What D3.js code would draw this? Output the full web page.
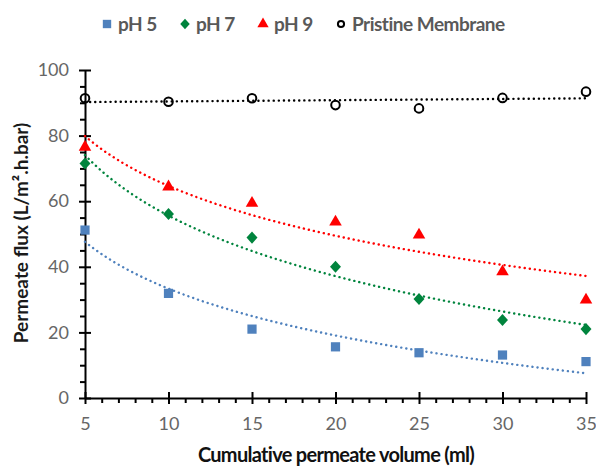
<!DOCTYPE html>
<html lang="en">
<head>
<meta charset="utf-8">
<title>permeate flux</title>
<script src="https://d3js.org/d3.v7.min.js"></script>
<style>
  body { margin: 0; background: #fff; }
  svg { display: block; }
  .tick text { font-family: Lato, sans-serif; font-size: 18px; fill: #666; }
  .domain, .tick line { stroke: #000; stroke-width: 2px; }
</style>
</head>
<body>
<div id="chart"></div>
<script>
// values
var volume   = [5, 10, 15, 20, 25, 30, 35];
var ph5      = [51.2, 31.9, 21.0, 15.6, 13.8, 13.1, 11.1];
var ph7      = [71.5, 56.1, 48.9, 40.0, 30.2, 23.8, 21.0];
var ph9      = [76.5, 64.4, 59.4, 53.7, 49.7, 38.5, 29.9];
var pristine = [91.4, 90.3, 91.4, 89.3, 88.3, 91.5, 93.4];
var xTicks = [5, 10, 15, 20, 25, 30, 35];
var yTicks = [0, 20, 40, 60, 80, 100];
var legendNames = ["pH 5", "pH 7", "pH 9", "Pristine Membrane"];

var w = 596, h = 466;
var svg = d3.select("#chart").append("svg").attr("width", w).attr("height", h);

var x = d3.scaleLinear().domain([5, 35]).range([85, 586]);
var y = d3.scaleLinear().domain([0, 100]).range([398, 70]);

// least squares trendlines (log for pH series, linear for pristine)
function fit(xs, ys, tf) {
  var tx = xs.map(tf), mx = d3.mean(tx), my = d3.mean(ys);
  var sxy = d3.sum(tx, function(v, i) { return (v - mx) * (ys[i] - my); });
  var sxx = d3.sum(tx, function(v) { return (v - mx) * (v - mx); });
  var a = sxy / sxx, b = my - a * mx;
  return function(v) { return a * tf(v) + b; };
}

// wide diamond like the spreadsheet marker
var diamond = {
  draw: function(ctx, size) {
    var r = Math.sqrt(size / 2);
    ctx.moveTo(0, -r * 1.1);
    ctx.lineTo(r, 0);
    ctx.lineTo(0, r * 1.1);
    ctx.lineTo(-r, 0);
    ctx.closePath();
  }
};

var series = [
  { name: legendNames[0], vals: ph5, color: "#4f81bd", sym: d3.symbolSquare, size: 85, lsize: 70, fill: true, tf: Math.log },
  { name: legendNames[1], vals: ph7, color: "#00843d", sym: diamond, size: 60, lsize: 45, fill: true, tf: Math.log },
  { name: legendNames[2], vals: ph9, color: "#ff0000", sym: d3.symbolTriangle, size: 68, lsize: 55, fill: true, tf: Math.log },
  { name: legendNames[3], vals: pristine, color: "#000", sym: d3.symbolCircle, size: 58, lsize: 30, fill: false, tf: function(v) { return v; } }
];

// axes: minor ticks outward, major ticks crossing
var xMinor = d3.range(5, 35.01, 1).filter(function(v) { return v % 5 !== 0; });
var yMinor = d3.range(0, 100.01, 5).filter(function(v) { return v % 20 !== 0; });

svg.append("g").attr("transform", "translate(0,398)")
  .call(d3.axisBottom(x).tickValues(xMinor).tickSize(5).tickFormat(""))
  .select(".domain").remove();
svg.append("g").attr("transform", "translate(85,0)")
  .call(d3.axisLeft(y).tickValues(yMinor).tickSize(5).tickFormat(""))
  .select(".domain").remove();

var xa = svg.append("g").attr("transform", "translate(0,398)")
  .call(d3.axisBottom(x).tickValues(xTicks).tickSize(6).tickSizeOuter(0));
xa.selectAll(".tick line").attr("y1", -6);
xa.selectAll(".tick text").attr("y", 19);

var ya = svg.append("g").attr("transform", "translate(85,0)")
  .call(d3.axisLeft(y).tickValues(yTicks).tickSize(6).tickSizeOuter(0));
ya.selectAll(".tick line").attr("x1", 6);
ya.selectAll(".tick text").attr("x", -16);

// trendlines
var xs = d3.range(5, 35.01, 0.25);
series.forEach(function(s) {
  var f = fit(volume, s.vals, s.tf);
  svg.append("path")
    .datum(xs)
    .attr("fill", "none")
    .attr("stroke", s.color)
    .attr("stroke-width", 2.4)
    .attr("stroke-linecap", "round")
    .attr("stroke-dasharray", "0.1,5")
    .attr("d", d3.line().x(function(d) { return x(d); }).y(function(d) { return y(f(d)); }));
});

// markers
series.forEach(function(s) {
  svg.append("g").selectAll("path")
    .data(s.vals)
    .enter()
    .append("path")
    .attr("transform", function(d, i) { return "translate(" + x(volume[i]) + "," + y(d) + ")"; })
    .attr("d", d3.symbol().type(s.sym).size(s.size))
    .attr("fill", s.fill ? s.color : "none")
    .attr("stroke", s.fill ? "none" : s.color)
    .attr("stroke-width", 2);
});

// legend
var legendX = [107, 185, 263, 341];
var lg = svg.append("g").selectAll("g")
  .data(series)
  .enter()
  .append("g")
  .attr("transform", function(d, i) { return "translate(" + legendX[i] + ",24)"; });
lg.append("path")
  .attr("d", function(d) { return d3.symbol().type(d.sym).size(d.lsize)(); })
  .attr("fill", function(d) { return d.fill ? d.color : "none"; })
  .attr("stroke", function(d) { return d.fill ? "none" : d.color; })
  .attr("stroke-width", 2);
lg.append("text")
  .attr("x", 11)
  .attr("dy", "0.36em")
  .style("font-family", "Lato, sans-serif")
  .style("font-size", "19px")
  .style("font-weight", "bold")
  .style("letter-spacing", "-0.5px")
  .style("fill", "#595959")
  .text(function(d) { return d.name; });

// axis titles
svg.append("text")
  .attr("x", 336).attr("y", 462)
  .attr("text-anchor", "middle")
  .style("font-family", "Lato, sans-serif")
  .style("font-size", "20px")
  .style("font-weight", "bold")
  .style("letter-spacing", "-0.7px")
  .style("fill", "#111")
  .text("Cumulative permeate volume (ml)");

svg.append("text")
  .attr("transform", "translate(28,233) rotate(-90)")
  .attr("text-anchor", "middle")
  .style("font-family", "Lato, sans-serif")
  .style("font-size", "19px")
  .style("font-weight", "bold")
  .style("fill", "#1a1a1a")
  .text("Permeate flux (L/m².h.bar)");
</script>
</body>
</html>
